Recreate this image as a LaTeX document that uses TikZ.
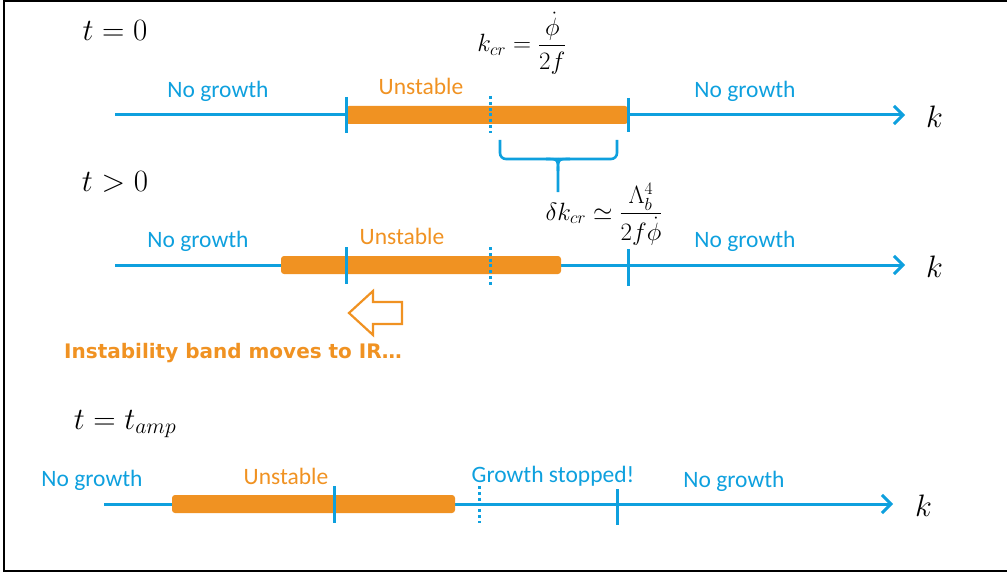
\RequirePackage{fix-cm}
\documentclass[tikz,border=0pt]{standalone}
\usepackage[no-math]{fontspec}
\usepackage{amsmath}
\newfontfamily\calfont{Carlito}
\newfontfamily\boldsans{DejaVu Sans}
\usetikzlibrary{arrows.meta}
\definecolor{cblue}{RGB}{14,160,222}
\definecolor{corange}{RGB}{240,146,34}
\begin{document}
\begin{tikzpicture}[x=1pt,y=-1pt,
  axis/.style={cblue, line width=3pt, -{Straight Barb[length=9pt,width=18pt,line width=3pt]}},
  tickmark/.style={cblue, line width=3pt},
  dotmark/.style={cblue, line width=3pt, dash pattern=on 3pt off 2.8pt},
  band/.style={fill=corange, rounded corners=3pt},
  bluelbl/.style={text=cblue, font=\calfont\fontsize{23.5}{25}\selectfont, inner sep=0pt},
  orangelbl/.style={text=corange, font=\calfont\fontsize{23.5}{25}\selectfont, inner sep=0pt},
  bigmath/.style={font=\fontsize{31}{33}\selectfont, inner sep=0pt},
  midmath/.style={font=\fontsize{25}{27}\selectfont, inner sep=0pt},
  bracestyle/.style={cblue, line width=2.6pt}]
\useasboundingbox (0,0) rectangle (1007,575);
\draw[black, line width=2pt] (1007,1) -- (4,1) -- (4,571) -- (1007,571);

% ---------- t = 0 ----------
\node[bigmath] (t0) at (115,31) {$t=0$};
\node[midmath] (kcr) at (522,43) {$k_{cr}=\dfrac{\dot{\phi}}{2f}$};
\coordinate (a1s) at (115,115);
\coordinate (a1e) at (905,115);
\draw[axis] (a1s) -- (a1e);
\node[bigmath, anchor=west] (k1) at (926,117) {$k$};
\fill[band] (346,106) rectangle (628,124);
\coordinate (p1a) at (346,97); \coordinate (p1b) at (346,133);
\coordinate (q1a) at (628,98); \coordinate (q1b) at (628,132);
\coordinate (d1a) at (490,96); \coordinate (d1b) at (490,133);
\draw[tickmark] (p1a) -- (p1b);
\draw[tickmark] (q1a) -- (q1b);
\draw[dotmark] (d1a) -- (d1b);
\node[bluelbl] (ng1l) at (218,91) {No growth};
\node[orangelbl] (un1) at (421,86) {Unstable};
\node[bluelbl] (ng1r) at (745,91) {No growth};

% brace
\coordinate (bl) at (500,140);
\coordinate (br) at (617,140);
\coordinate (bm) at (558,192);
\draw[bracestyle, rounded corners=6pt] (bl) |- (558,159);
\draw[bracestyle, rounded corners=6pt] (br) |- (558,159);
\draw[bracestyle] (546,159) .. controls (558,159) .. (558,171) -- (bm);
\draw[bracestyle] (570,159) .. controls (558,159) .. (558,171);
\node[midmath] (dk) at (604,214) {$\delta k_{cr}\simeq\dfrac{\Lambda_b^4}{2f\dot{\phi}}$};

% ---------- t > 0 ----------
\node[bigmath] (t1) at (115,182) {$t>0$};
\coordinate (a2s) at (115,265);
\coordinate (a2e) at (905,265);
\draw[axis] (a2s) -- (a2e);
\node[bigmath, anchor=west] (k2) at (926,267) {$k$};
\fill[band] (281,256) rectangle (561,274);
\coordinate (p2a) at (346,247); \coordinate (p2b) at (346,284);
\coordinate (q2a) at (628,249); \coordinate (q2b) at (628,286);
\coordinate (d2a) at (490,247); \coordinate (d2b) at (490,285);
\draw[tickmark] (p2a) -- (p2b);
\draw[tickmark] (q2a) -- (q2b);
\draw[dotmark] (d2a) -- (d2b);
\node[bluelbl] (ng2l) at (198,241) {No growth};
\node[orangelbl] (un2) at (402,236) {Unstable};
\node[bluelbl] (ng2r) at (745,241) {No growth};

% hollow arrow
\draw[corange, line width=2.2pt, line join=miter] (349,313) -- (373,291) -- (373,302) -- (402,302) -- (402,324) -- (373,324) -- (373,335) -- cycle;
\node[text=corange, font=\boldsans\bfseries\fontsize{20}{22}\selectfont, inner sep=0pt, anchor=west] (ir) at (64,353) {Instability band moves to IR…};

% ---------- t = t_amp ----------
\node[bigmath] (t2) at (125,424) {$t=t_{amp}$};
\coordinate (a3s) at (104,504);
\coordinate (a3e) at (893,504);
\draw[axis] (a3s) -- (a3e);
\node[bigmath, anchor=west] (k3) at (915,506) {$k$};
\fill[band] (172,495) rectangle (455,513);
\coordinate (p3a) at (334,486); \coordinate (p3b) at (334,523);
\coordinate (q3a) at (617,489); \coordinate (q3b) at (617,525);
\coordinate (d3a) at (479,486); \coordinate (d3b) at (479,523);
\draw[tickmark] (p3a) -- (p3b);
\draw[tickmark] (q3a) -- (q3b);
\draw[dotmark] (d3a) -- (d3b);
\node[bluelbl] (ng3l) at (92,480) {No growth};
\node[orangelbl] (un3) at (286,476) {Unstable};
\node[bluelbl] (gs) at (553,476) {Growth stopped!};
\node[bluelbl] (ng3r) at (734,481) {No growth};
\end{tikzpicture}
\end{document}
